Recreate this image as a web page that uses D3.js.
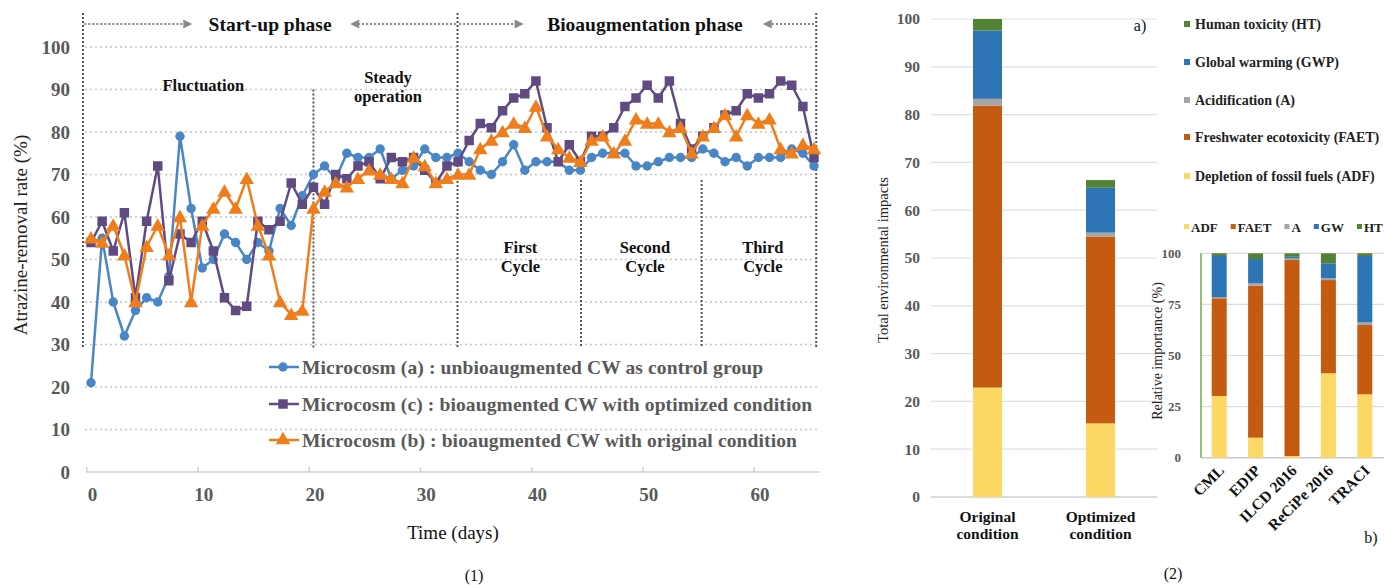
<!DOCTYPE html>
<html><head><meta charset="utf-8">
<script src="https://cdn.jsdelivr.net/npm/d3@7"></script>
<style>
body{margin:0;background:#fff}
svg{display:block}
text{font-family:"Liberation Serif","Times New Roman",serif}
</style>
</head><body>
<svg id="c" width="1384" height="585"></svg>
<script>
// ---------------- DATA ----------------
const days = [0,1,2,3,4,5,6,7,8,9,10,11,12,13,14,15,16,17,18,19,20,21,22,23,24,25,26,27,28,29,30,31,32,33,34,35,36,37,38,39,40,41,42,43,44,45,46,47,48,49,50,51,52,53,54,55,56,57,58,59,60,61,62,63,64,65];
// Microcosm (a): unbioaugmented CW as control group
const seriesA = [21,55,40,32,38,41,40,46,79,62,48,50,56,54,50,54,52,62,58,65,70,72,69,75,74,74,76,69,71,72,76,74,74,75,73,71,70,73,77,71,73,73,73,71,71,74,75,75,75,72,72,73,74,74,74,76,75,73,74,72,74,74,74,76,75,72];
// Microcosm (c): bioaugmented CW with optimized condition
const seriesC = [54,59,52,61,41,59,72,45,56,54,59,52,41,38,39,59,57,59,68,63,67,63,70,69,72,73,69,74,73,74,71,68,72,73,78,82,81,85,88,89,92,81,73,77,73,79,79,81,86,88,91,88,92,82,76,79,81,84,85,89,88,89,92,91,86,74];
// Microcosm (b): bioaugmented CW with original condition
const seriesB = [55,54,58,51,40,53,58,51,60,40,58,62,66,62,69,58,51,40,37,38,62,66,68,67,69,71,70,69,68,74,72,68,69,70,70,76,78,80,82,81,86,79,76,74,73,78,79,75,78,83,82,82,80,81,75,79,81,84,79,84,82,83,76,75,77,76];
const yTicks = [0,10,20,30,40,50,60,70,80,90,100];
const xTickLabels = [0,10,20,30,40,50,60];
const legendNames = ["Microcosm (a) : unbioaugmented CW as control group","Microcosm (c) : bioaugmented CW with optimized condition","Microcosm (b) : bioaugmented CW with original condition"];

// Panel (2a)
const conditions = ["Original condition","Optimized condition"];
const impactKeys = ["ADF","FAET","A","GWP","HT"];
const impactNames = ["Depletion of fossil fuels (ADF)","Freshwater ecotoxicity (FAET)","Acidification (A)","Global warming (GWP)","Human toxicity (HT)"];
const adfVals  = [22.9, 15.4];
const faetVals = [59.0, 39.1];
const acidVals = [1.4, 0.8];
const gwpVals  = [14.3, 9.4];
const htVals   = [2.4, 1.6];
const totalTicks = [0,10,20,30,40,50,60,70,80,90,100];

// Panel (2b)
const methods = ["CML","EDIP","ILCD 2016","ReCiPe 2016","TRACI"];
const relKeys = ["ADF","FAET","A","GW","HT"];
const relAdf  = [30.2, 9.8, 0.8, 41.3, 31.0];
const relFaet = [47.8, 74.4, 95.9, 45.6, 33.9];
const relA    = [0.6, 1.1, 0.8, 0.9, 1.3];
const relGw   = [20.1, 11.9, 0.8, 7.3, 32.5];
const relHt   = [1.3, 2.8, 1.7, 4.9, 1.3];
const relTicks = [0,25,50,75,100];

// ---------------- STYLE ----------------
const cBlue = "#4a86c6", cPurple = "#5f4a82", cOrange = "#f07d1c";
const impactColors = ["#fdd865","#c55a11","#a5a5a5","#2e75b6","#548235"];
const svg = d3.select("#c");

// ================= LEFT CHART =================
const x = d3.scaleLinear().domain([0,65]).range([91,814]);
const y = d3.scaleLinear().domain([0,100]).range([472,47]);

svg.append("g").selectAll("line").data(yTicks.filter(v=>v>0)).join("line")
  .attr("x1",85).attr("x2",820).attr("y1",d=>y(d)).attr("y2",d=>y(d))
  .attr("stroke","#c4c4c4").attr("stroke-width",1.6).attr("stroke-dasharray","2,3");

svg.append("g").selectAll("text").data(yTicks).join("text")
  .attr("x",70).attr("y",d=>y(d)).attr("dy","0.35em").attr("text-anchor","end")
  .attr("font-size",19).attr("font-weight","bold").attr("fill","#595959").text(d=>d);

const xAxis = d3.axisBottom(x).tickValues(xTickLabels).tickSize(0).tickPadding(16).tickFormat(d=>d);
const gx = svg.append("g").attr("transform",`translate(0,${y(0)})`).call(xAxis);
gx.select(".domain").remove();
gx.selectAll("text").attr("font-size",19).attr("font-weight","bold").attr("fill","#595959")
  .attr("font-family",'"Liberation Serif","Times New Roman",serif').attr("dx",1);
svg.append("line").attr("x1",x(-0.4)).attr("x2",x(65.5)).attr("y1",y(0)).attr("y2",y(0))
  .attr("stroke","#d0d0d0").attr("stroke-width",1.5);
svg.append("g").selectAll("line").data(xTickLabels).join("line")
  .attr("x1",d=>x(d-0.38)).attr("x2",d=>x(d-0.38)).attr("y1",y(0)-5).attr("y2",y(0))
  .attr("stroke","#d0d0d0").attr("stroke-width",1.5);

// phase / cycle dotted borders  [day, topValue]
const borders = [[-0.72,108],[20,90],[32.95,108],[44.05,68.7],[54.9,68.7],[65.2,108]];
svg.append("g").selectAll("line").data(borders).join("line")
  .attr("x1",d=>x(d[0])).attr("x2",d=>x(d[0])).attr("y1",d=>y(d[1])).attr("y2",y(29.2))
  .attr("stroke","#555").attr("stroke-width",2).attr("stroke-dasharray","2,2");

const arrowY = y(105.4);
function arrow(x1,x2){
  const dir = Math.sign(x2-x1);
  svg.append("line").attr("x1",x1).attr("x2",x2-dir*8).attr("y1",arrowY).attr("y2",arrowY)
    .attr("stroke","#8a8a8a").attr("stroke-width",2).attr("stroke-dasharray","2,2");
  svg.append("path").attr("d",`M${x2},${arrowY} L${x2-dir*9},${arrowY-4.5} L${x2-dir*9},${arrowY+4.5}Z`).attr("fill","#8a8a8a");
}
arrow(x(-0.6),x(9.1)); arrow(x(32.8),x(23.3));
arrow(x(33.1),x(38.9)); arrow(x(65.0),x(60.4));

const phaseText = [["Start-up phase",x(16.1)],["Bioaugmentation phase",x(49.8)]];
svg.append("g").selectAll("text").data(phaseText).join("text")
  .attr("x",d=>d[1]).attr("y",arrowY).attr("dy","0.35em").attr("text-anchor","middle")
  .attr("font-size",19.5).attr("font-weight","bold").attr("fill","#111").text(d=>d[0]);

const secLabels = [["Fluctuation",null,10.1,90.9],["Steady","operation",26.7,93],["First","Cycle",38.6,53],["Second","Cycle",49.8,53],["Third","Cycle",60.4,53]];
secLabels.forEach(s=>{
  const t = svg.append("text").attr("x",x(s[2])).attr("y",y(s[3])).attr("text-anchor","middle")
    .attr("font-size",16.5).attr("font-weight","bold").attr("fill","#111");
  t.append("tspan").attr("x",x(s[2])).attr("dy","0.35em").text(s[0]);
  if(s[1]) t.append("tspan").attr("x",x(s[2])).attr("dy","1.2em").text(s[1]);
});

const series = [
  {vals:seriesA,color:cBlue,sym:d3.symbolCircle,size:70},
  {vals:seriesC,color:cPurple,sym:d3.symbolSquare,size:90},
  {vals:seriesB,color:cOrange,sym:d3.symbolTriangle,size:90}
];
const line = d3.line().x((d,i)=>x(days[i])).y(d=>y(d));
series.forEach(s=>{
  const g = svg.append("g");
  g.append("path").attr("d",line(s.vals)).attr("fill","none").attr("stroke",s.color).attr("stroke-width",2.5).attr("stroke-linejoin","round");
  g.selectAll("path.m").data(s.vals).join("path").attr("class","m")
    .attr("transform",(d,i)=>`translate(${x(days[i])},${y(d)+(s.sym===d3.symbolTriangle?1:0)})`)
    .attr("d",d3.symbol().type(s.sym).size(s.size)).attr("fill",s.color);
});

const legY = [367,404,440];
series.forEach((s,i)=>{
  svg.append("line").attr("x1",269).attr("x2",299).attr("y1",legY[i]).attr("y2",legY[i]).attr("stroke",s.color).attr("stroke-width",2.5);
  svg.append("path").attr("transform",`translate(283,${legY[i]})`).attr("d",d3.symbol().type(s.sym).size(s.size)).attr("fill",s.color);
  svg.append("text").attr("x",302).attr("y",legY[i]).attr("dy","0.35em").attr("font-size",19.5)
    .attr("font-weight","bold").attr("fill","#595959").attr("letter-spacing",0.12).text(legendNames[i]);
});

svg.append("text").attr("transform","translate(20,235) rotate(-90)").attr("text-anchor","middle").attr("dy","0.35em")
  .attr("font-size",19).attr("fill","#222").text("Atrazine-removal rate (%)");
svg.append("text").attr("x",453).attr("y",532).attr("text-anchor","middle").attr("dy","0.35em")
  .attr("font-size",19).attr("fill","#111").text("Time (days)");
svg.append("text").attr("x",474).attr("y",575).attr("text-anchor","middle").attr("dy","0.35em")
  .attr("font-size",16).attr("fill","#111").text("(1)");

// ================= RIGHT CHART (a) =================
const rx = d3.scaleBand().domain(conditions).range([931,1157]).paddingInner(0.743).paddingOuter(0.3715);
const ry = d3.scaleLinear().domain([0,100]).range([497,19]);
svg.append("g").selectAll("line").data(totalTicks.filter(v=>v>0)).join("line")
  .attr("x1",931).attr("x2",1157).attr("y1",d=>ry(d)).attr("y2",d=>ry(d))
  .attr("stroke","#e0e0e0").attr("stroke-width",1.2);
svg.append("line").attr("x1",931).attr("x2",1157).attr("y1",ry(0)).attr("y2",ry(0)).attr("stroke","#d0d0d0").attr("stroke-width",1.5);
svg.append("g").selectAll("text").data(totalTicks).join("text")
  .attr("x",920).attr("y",d=>ry(d)).attr("dy","0.35em").attr("text-anchor","end")
  .attr("font-size",15.5).attr("font-weight","bold").attr("fill","#595959").text(d=>d);

const rowsA = conditions.map((c,i)=>({cat:c,ADF:adfVals[i],FAET:faetVals[i],A:acidVals[i],GWP:gwpVals[i],HT:htVals[i]}));
const stackA = d3.stack().keys(impactKeys)(rowsA);
stackA.forEach((layer,k)=>{
  svg.append("g").selectAll("rect").data(layer).join("rect")
    .attr("x",d=>rx(d.data.cat)).attr("width",rx.bandwidth())
    .attr("y",d=>ry(d[1])).attr("height",d=>ry(d[0])-ry(d[1])).attr("fill",impactColors[k]);
});
conditions.forEach(c=>{
  const parts = c.split(" ");
  const t = svg.append("text").attr("x",rx(c)+rx.bandwidth()/2).attr("y",517).attr("text-anchor","middle")
    .attr("font-size",15.5).attr("font-weight","bold").attr("fill","#111");
  t.append("tspan").attr("x",rx(c)+rx.bandwidth()/2).attr("dy","0.35em").text(parts[0]);
  t.append("tspan").attr("x",rx(c)+rx.bandwidth()/2).attr("dy","1.1em").text(parts[1]);
});
svg.append("text").attr("transform","translate(883,260) rotate(-90)").attr("text-anchor","middle").attr("dy","0.35em")
  .attr("font-size",14.5).attr("fill","#222").text("Total environmental impacts");
svg.append("text").attr("x",1140).attr("y",25).attr("text-anchor","middle").attr("dy","0.35em")
  .attr("font-size",16).attr("fill","#111").text("a)");

const legRows = [4,3,2,1,0];
const legRY = [24,62,100,137,176];
legRows.forEach((k,i)=>{
  svg.append("rect").attr("x",1184).attr("y",legRY[i]-3).attr("width",6).attr("height",6).attr("fill",impactColors[k]);
  svg.append("text").attr("x",1195).attr("y",legRY[i]).attr("dy","0.35em").attr("font-size",14)
    .attr("font-weight","bold").attr("fill","#222").text(impactNames[k]);
});

// ================= INSET CHART (b) =================
const bx = d3.scaleBand().domain(methods).range([1201,1383]).paddingInner(0.588).paddingOuter(0.294);
const by = d3.scaleLinear().domain([0,100]).range([457.7,253.3]);
svg.append("g").selectAll("line").data(relTicks.filter(v=>v>0)).join("line")
  .attr("x1",1201).attr("x2",1384).attr("y1",d=>by(d)).attr("y2",d=>by(d))
  .attr("stroke","#dcdcdc").attr("stroke-width",1.2);
svg.append("line").attr("x1",1201).attr("x2",1384).attr("y1",by(0)).attr("y2",by(0)).attr("stroke","#c8c8c8").attr("stroke-width",1.5);
svg.append("line").attr("x1",1201).attr("x2",1201).attr("y1",by(100)).attr("y2",by(0)).attr("stroke","#70ad47").attr("stroke-width",1.5);
svg.append("g").selectAll("text").data(relTicks).join("text")
  .attr("x",1181).attr("y",d=>by(d)).attr("dy","0.35em").attr("text-anchor","end")
  .attr("font-size",13).attr("font-weight","bold").attr("fill","#595959").text(d=>d);

const rowsB = methods.map((m,i)=>({cat:m,ADF:relAdf[i],FAET:relFaet[i],A:relA[i],GW:relGw[i],HT:relHt[i]}));
const stackB = d3.stack().keys(relKeys)(rowsB);
stackB.forEach((layer,k)=>{
  svg.append("g").selectAll("rect").data(layer).join("rect")
    .attr("x",d=>bx(d.data.cat)).attr("width",bx.bandwidth())
    .attr("y",d=>by(d[1])).attr("height",d=>by(d[0])-by(d[1])).attr("fill",impactColors[k]);
});
svg.append("g").selectAll("text").data(methods).join("text")
  .attr("transform",d=>`translate(${bx(d)+bx.bandwidth()/2+2},${by(0)+10}) rotate(-45)`)
  .attr("text-anchor","end").attr("dy","0.35em").attr("font-size",15.5).attr("font-weight","bold").attr("fill","#111").text(d=>d);
svg.append("text").attr("transform","translate(1157,351) rotate(-90)").attr("text-anchor","middle").attr("dy","0.35em")
  .attr("font-size",14).attr("fill","#222").text("Relative importance (%)");
svg.append("text").attr("x",1371).attr("y",537).attr("text-anchor","middle").attr("dy","0.35em")
  .attr("font-size",16).attr("fill","#111").text("b)");
svg.append("text").attr("x",1173).attr("y",573).attr("text-anchor","middle").attr("dy","0.35em")
  .attr("font-size",16).attr("fill","#111").text("(2)");

let lx = 1184;
relKeys.forEach((k,i)=>{
  svg.append("rect").attr("x",lx).attr("y",224).attr("width",5).attr("height",5).attr("fill",impactColors[i]);
  const t = svg.append("text").attr("x",lx+7).attr("y",227).attr("dy","0.35em").attr("font-size",13)
    .attr("font-weight","bold").attr("fill","#222").text(k);
  lx += 7 + t.node().getComputedTextLength() + 13;
});
</script>
</body></html>
